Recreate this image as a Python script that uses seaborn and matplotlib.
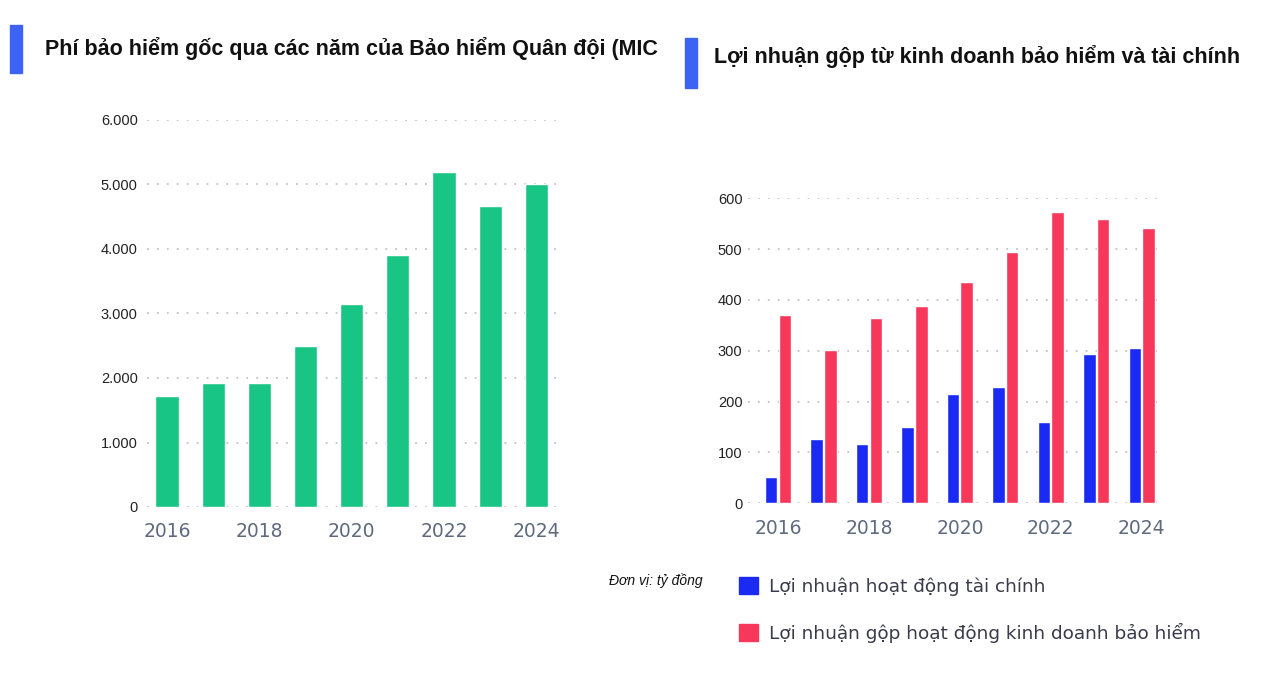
import matplotlib
matplotlib.use("Agg")
import matplotlib.pyplot as plt
import matplotlib.patches as mpatches
import seaborn as sns
import pandas as pd

years = ["2016", "2017", "2018", "2019", "2020", "2021", "2022", "2023", "2024"]
premium = [1720, 1920, 1920, 2500, 3150, 3910, 5200, 4670, 5010]
fin_profit = [52, 126, 116, 151, 216, 228, 160, 293, 305]
ins_profit = [371, 301, 365, 388, 435, 495, 574, 559, 542]
series_names = ["Lợi nhuận hoạt động tài chính", "Lợi nhuận gộp hoạt động kinh doanh bảo hiểm"]
left_title = "Phí bảo hiểm gốc qua các năm của Bảo hiểm Quân đội (MIC"
right_title = "Lợi nhuận gộp từ kinh doanh bảo hiểm và tài chính"
unit_note = "Đơn vị: tỷ đồng"
shown_years = ["2016", "2018", "2020", "2022", "2024"]

GREEN = "#18C585"
BLUE = "#1A2AF3"
RED = "#F7385B"
ACCENT = "#3D63F5"
TICKGRAY = "#5F6A7E"

sns.set_theme(style="white")
plt.rcParams["font.family"] = ["DejaVu Sans"]

W, H = 1280, 686
fig = plt.figure(figsize=(W / 100, H / 100), dpi=100)
fig.patch.set_facecolor("white")

def fx(px):
    return px / W

def fy(py):
    return 1 - py / H

def style_axis(ax, ymax, yticks, ylabels, ypad):
    ax.set_ylim(0, ymax)
    ax.set_yticks(yticks)
    ax.set_yticklabels(ylabels, fontsize=10.5, color="#222222", family="Liberation Sans")
    for s in ax.spines.values():
        s.set_visible(False)
    ax.grid(axis="y", color="#C4C4C4", linestyle=(0, (1, 4.5)), linewidth=1.3)
    ax.grid(axis="x", visible=False)
    ax.set_axisbelow(True)
    ax.tick_params(axis="both", length=0)
    ax.tick_params(axis="y", pad=ypad)
    ax.tick_params(axis="x", pad=11)
    ax.set_xlabel("")
    ax.set_ylabel("")
    idx = [years.index(y) for y in shown_years]
    ax.set_xticks(idx)
    ax.set_xticklabels(shown_years, fontsize=13.5, color=TICKGRAY)

# Left chart
ax1 = fig.add_axes([fx(146.7), fy(507), fx(410), 387 / H])
df1 = pd.DataFrame({"year": years, "premium": premium})
sns.barplot(data=df1, x="year", y="premium", color=GREEN, saturation=1, width=0.5, ax=ax1)
style_axis(ax1, 6000, [0, 1000, 2000, 3000, 4000, 5000, 6000],
           ["0", "1.000", "2.000", "3.000", "4.000", "5.000", "6.000"], 6.5)
ax1.set_xlim(-0.44, 8.44)

# Right chart
ax2 = fig.add_axes([fx(748), fy(503.3), fx(412), 305 / H])
df2 = pd.DataFrame({
    "year": years * 2,
    "value": fin_profit + ins_profit,
    "series": [series_names[0]] * len(years) + [series_names[1]] * len(years),
})
sns.barplot(data=df2, x="year", y="value", hue="series", palette=[BLUE, RED],
            saturation=1, width=0.6, gap=0.08, ax=ax2, legend=False)
style_axis(ax2, 600, [0, 100, 200, 300, 400, 500, 600],
           ["0", "100", "200", "300", "400", "500", "600"], 4)
ax2.set_xlim(-0.66, 8.4)

# Titles with accent bars
fig.patches.append(mpatches.Rectangle((fx(10), fy(73)), fx(12), 48 / H,
                                      transform=fig.transFigure, color=ACCENT))
fig.patches.append(mpatches.Rectangle((fx(685), fy(88)), fx(12), 50 / H,
                                      transform=fig.transFigure, color=ACCENT))
fig.text(fx(45), fy(48), left_title, fontsize=15.5, fontweight="bold",
         family="Liberation Sans", color="#111111", va="center", ha="left")
fig.text(fx(714), fy(57), right_title, fontsize=15.5, fontweight="bold",
         family="Liberation Sans", color="#111111", va="center", ha="left")

# Unit note
fig.text(fx(609), fy(581), unit_note, fontsize=10, style="italic",
         family="Liberation Sans", color="#111111", va="center", ha="left")

# Legend
handles = [mpatches.Patch(color=BLUE), mpatches.Patch(color=RED)]
fig.legend(handles, series_names, loc="upper left",
           bbox_to_anchor=(fx(722), fy(560)), bbox_transform=fig.transFigure,
           frameon=False, fontsize=13.3, handlelength=1.05, handleheight=1.1,
           handletextpad=0.6, labelspacing=1.46, labelcolor="#3A3A4A")

fig.savefig("out.png", dpi=100, facecolor="white")
